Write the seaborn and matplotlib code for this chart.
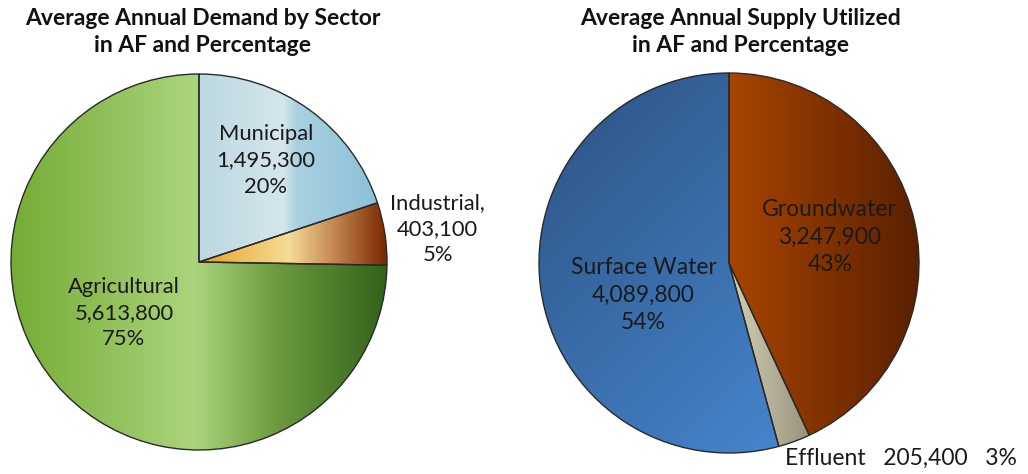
import numpy as np
import matplotlib
matplotlib.use("Agg")
import matplotlib.pyplot as plt
from matplotlib.colors import LinearSegmentedColormap
import seaborn as sns

# ---- data ----
demand_labels = ["Municipal", "Industrial", "Agricultural"]
demand_values = [1495300, 403100, 5613800]
supply_labels = ["Groundwater", "Effluent", "Surface Water"]
supply_values = [3247900, 205400, 4089800]
titles = ["Average Annual Demand by Sector\nin AF and Percentage",
          "Average Annual Supply Utilized\nin AF and Percentage"]

sns.set_theme(style="white")
plt.rcParams['font.family'] = ['Lato', 'DejaVu Sans']

W, H = 1028, 474
fig = plt.figure(figsize=(W / 100, H / 100), dpi=100)


def make_ax(cx, cy, r):
    ax = fig.add_axes([(cx - r) / W, (H - cy - r) / H, 2 * r / W, 2 * r / H])
    ax.set_xlim(-1, 1)
    ax.set_ylim(-1, 1)
    ax.set_aspect('equal')
    ax.axis('off')
    return ax


def gradient_fill(ax, wedge, stops, direction=(1.0, 0.0)):
    bb = wedge.get_path().get_extents()
    x0, y0, x1, y1 = bb.x0, bb.y0, bb.x1, bb.y1
    nx, ny = 300, 300
    xs = np.linspace(x0, x1, nx)
    ys = np.linspace(y0, y1, ny)
    X, Y = np.meshgrid(xs, ys)
    d = np.array(direction, float)
    d /= np.linalg.norm(d)
    T = X * d[0] + Y * d[1]
    T = (T - T.min()) / (T.max() - T.min())
    cmap = LinearSegmentedColormap.from_list("g", stops)
    im = ax.imshow(T, extent=[x0, x1, y0, y1], origin='lower', cmap=cmap,
                   vmin=0, vmax=1, interpolation='bilinear', zorder=1,
                   aspect='auto')
    im.set_clip_path(wedge)
    wedge.set_facecolor('none')
    wedge.set_zorder(2)


def fmt(label, v, total, sep="\n"):
    return f"{label}{sep}{v:,}{sep}{round(100 * v / total)}%"


# ---- left pie ----
axL = make_ax(199, 262, 188)
wedgesL, _ = axL.pie(demand_values, startangle=90, counterclock=False,
                     radius=1.0, wedgeprops=dict(edgecolor='#2a2a2a', linewidth=1.0))
axL.set_xlim(-1, 1); axL.set_ylim(-1, 1)
gradient_fill(axL, wedgesL[0], [(0, '#bcd8e1'), (0.47, '#d4e6ec'), (0.55, '#a9d0e0'), (1, '#8bc1d9')])
gradient_fill(axL, wedgesL[1], [(0, '#e9a225'), (0.48, '#f5dc98'), (0.7, '#c98d58'), (1, '#7a2800')])
gradient_fill(axL, wedgesL[2], [(0, '#76ac36'), (0.49, '#abd47c'), (0.7, '#6f9c40'), (1, '#33631a')])

totL = sum(demand_values)
tkw = dict(ha='center', va='center', fontsize=15.8, color='#1a1a1a', linespacing=1.38)
axL.text(0.356, 0.54, fmt(demand_labels[0], demand_values[0], totL), **tkw)
axL.text(1.27, 0.176, fmt(demand_labels[1] + ",", demand_values[1], totL), **tkw)
axL.text(-0.40, -0.27, fmt(demand_labels[2], demand_values[2], totL), **tkw)

# ---- right pie ----
axR = make_ax(729, 263, 190)
wedgesR, _ = axR.pie(supply_values, startangle=90, counterclock=False,
                     radius=1.0, wedgeprops=dict(edgecolor='#2a2a2a', linewidth=1.0))
axR.set_xlim(-1, 1); axR.set_ylim(-1, 1)
gradient_fill(axR, wedgesR[0], [(0, '#a84400'), (1, '#5a2000')])
gradient_fill(axR, wedgesR[1], [(0, '#d4d0b8'), (1, '#98937a')])
gradient_fill(axR, wedgesR[2], [(0, '#2d5282'), (1, '#4585cc')], direction=(1.0, -1.0))

totR = sum(supply_values)
rkw = dict(tkw, fontsize=16.5)
axR.text(0.53, 0.137, fmt(supply_labels[0], supply_values[0], totR), **rkw)
axR.text(-0.45, -0.17, fmt(supply_labels[2], supply_values[2], totR), **rkw)
axR.text(0.905, -1.026, fmt(supply_labels[1], supply_values[1], totR, sep="   "),
         ha='center', va='center', fontsize=16.5, color='#1a1a1a', clip_on=False)

# ---- titles ----
for x, t in zip([203 / W, 740 / W], titles):
    fig.text(x, 1 - 32 / H, t, ha='center', va='center', fontsize=16.5,
             fontweight='bold', color='#111111', linespacing=1.3)

fig.savefig("out.png", dpi=100)
